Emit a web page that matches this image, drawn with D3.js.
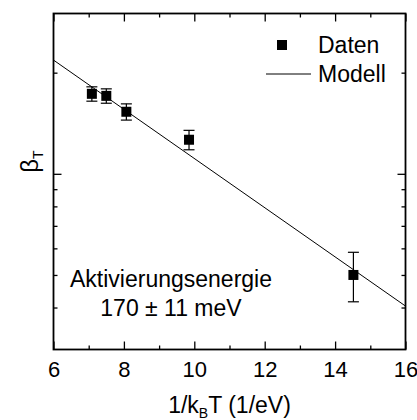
<!DOCTYPE html>
<html><head><meta charset="utf-8">
<script src="https://cdn.jsdelivr.net/npm/d3@7"></script>
<style>body{margin:0;background:#fff}svg{display:block}text{font-family:"Liberation Sans",Arial,sans-serif;fill:#000}</style>
</head><body><svg id="c" width="417" height="420"></svg>
<script>
// data
const xData = [7.09, 7.50, 8.07, 9.85, 14.52];
const yData = [17.3, 17.06, 15.3, 12.63, 5.0];
const yErr = [0.85, 0.84, 0.85, 0.84, 0.84];
const modelX = [6, 16];
const modelY = [21.8, 4.04];
const xMajorTicks = [6, 8, 10, 12, 14, 16];
const xMinorTicks = [7, 9, 11, 13, 15];
const yMajorTicks = [10];
const yMinorTicks = [4, 5, 6, 7, 8, 9, 20];
const legendLabels = ["Daten", "Modell"];
const annotation = ["Aktivierungsenergie", "170 ± 11 meV"];

const L = 53.5, R = 405.5, T = 13.5, B = 349.5;
const svg = d3.select("#c");
const x = d3.scaleLinear().domain([6, 16]).range([L, R]);
const y = d3.scaleLog().domain([3, 30]).range([B, T]);

// model line
svg.append("path").attr("fill","none").attr("stroke","#000").attr("stroke-width",1)
  .attr("d", d3.line().x((d,i)=>x(modelX[i])).y((d,i)=>y(modelY[i]))(modelX));

// error bars
const g = svg.append("g").attr("stroke","#000").attr("stroke-width",1.2);
xData.forEach((xv,i)=>{
  const cx = x(xv), y1 = y(yData[i]+yErr[i]), y2 = y(yData[i]-yErr[i]);
  g.append("line").attr("x1",cx).attr("x2",cx).attr("y1",y1).attr("y2",y2);
  g.append("line").attr("x1",cx-5.5).attr("x2",cx+5.5).attr("y1",y1).attr("y2",y1);
  g.append("line").attr("x1",cx-5.5).attr("x2",cx+5.5).attr("y1",y2).attr("y2",y2);
});
svg.selectAll("rect.pt").data(xData).join("rect").attr("class","pt")
  .attr("x",(d)=>x(d)-5).attr("y",(d,i)=>y(yData[i])-5).attr("width",10).attr("height",10).attr("fill","#000");

// axes (ticks inward)
function ax(axisFn, scale, ticks, len, tr, labels){
  const a = svg.append("g").attr("transform",tr)
    .call(axisFn(scale).tickValues(ticks).tickSize(len).tickFormat(labels?d3.format("d"):""));
  a.select(".domain").remove();
  a.selectAll("line").attr("stroke","#000").attr("stroke-width",1.3);
  a.selectAll("text").style("font-size","22px");
  return a;
}
const bx = ax(d3.axisBottom, x, xMajorTicks, -8, `translate(0,${B})`, true);
bx.selectAll("text").attr("y", 12).attr("dy","0.71em");
ax(d3.axisBottom, x, xMinorTicks, -4, `translate(0,${B})`, false);
ax(d3.axisTop, x, xMajorTicks, -8, `translate(0,${T})`, false);
ax(d3.axisTop, x, xMinorTicks, -4, `translate(0,${T})`, false);
ax(d3.axisLeft, y, yMajorTicks, -8, `translate(${L},0)`, false);
ax(d3.axisLeft, y, yMinorTicks, -4, `translate(${L},0)`, false);
ax(d3.axisRight, y, yMajorTicks, -8, `translate(${R},0)`, false);
ax(d3.axisRight, y, yMinorTicks, -4, `translate(${R},0)`, false);

// frame
svg.append("rect").attr("x",L).attr("y",T).attr("width",R-L).attr("height",B-T)
  .attr("fill","none").attr("stroke","#000").attr("stroke-width",1.8);

// axis titles
const xt = svg.append("text").attr("x",(L+R)/2).attr("y",413).attr("text-anchor","middle").style("font-size","23px");
xt.append("tspan").text("1/k");
xt.append("tspan").text("B").style("font-size","14px").attr("dy",5);
xt.append("tspan").text("T (1/eV)").attr("dy",-5);
const yt = svg.append("text").attr("transform",`translate(38,${(T+B)/2-20}) rotate(-90)`).attr("text-anchor","middle").style("font-size","24px");
yt.append("tspan").text("β");
yt.append("tspan").text("T").style("font-size","14px").attr("dy",5);

// legend
svg.append("rect").attr("x",277).attr("y",40).attr("width",10).attr("height",10).attr("fill","#000");
svg.append("line").attr("x1",266).attr("x2",311).attr("y1",74).attr("y2",74).attr("stroke","#000").attr("stroke-width",1);
legendLabels.forEach((t,i)=>svg.append("text").attr("x",318).attr("y",53+i*29).style("font-size","23px").text(t));

// annotation
annotation.forEach((t,i)=>svg.append("text").attr("x",171).attr("y",287+i*29).attr("text-anchor","middle").style("font-size","23px").text(t));
</script></body></html>
